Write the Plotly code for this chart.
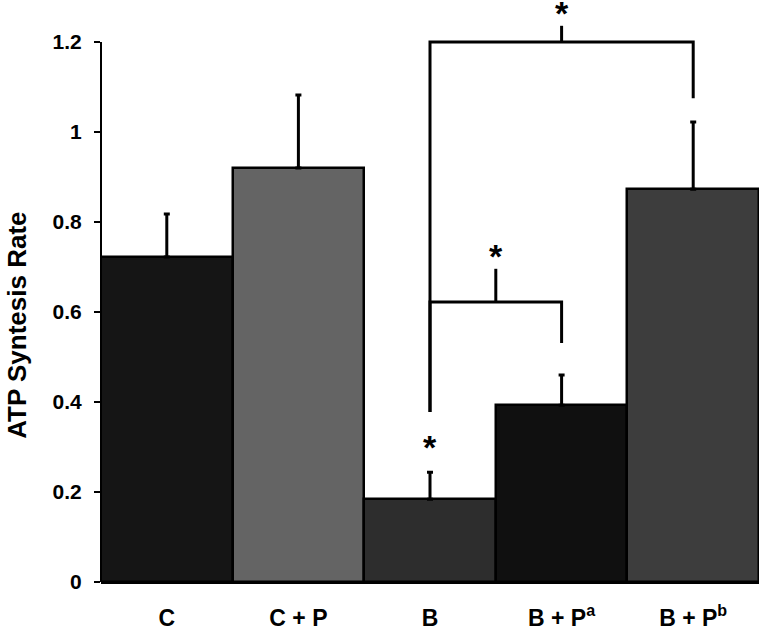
import plotly.graph_objects as go

# ---- data ----
categories = ["C", "C + P", "B", "B + P<sup>a</sup>", "B + P<sup>b</sup>"]
means = [0.722, 0.92, 0.184, 0.393, 0.873]
errors = [0.096, 0.162, 0.060, 0.067, 0.149]
bar_colors = ["#151515", "#646464", "#2d2d2d", "#101010", "#3d3d3d"]

y_ticks = [0, 0.2, 0.4, 0.6, 0.8, 1.0, 1.2]
y_tick_labels = ["0", "0.2", "0.4", "0.6", "0.8", "1", "1.2"]

# significance brackets: (left idx, right idx, bracket height, left end, right end, tick top, star y)
brackets = [
    (2, 3, 0.622, 0.378, 0.531, 0.696, 0.733),
    (2, 4, 1.200, 0.378, 1.075, 1.236, 1.274),
]
single_star = (2, 0.309)

FONT = "Liberation Sans, Arial, Helvetica, sans-serif"

x_idx = list(range(len(categories)))

fig = go.Figure()
fig.add_trace(go.Bar(
    x=x_idx, y=means,
    width=1.0,
    marker=dict(color=bar_colors, line=dict(color="black", width=2.5)),
    error_y=dict(type="data", symmetric=False, array=errors,
                 arrayminus=[0] * len(errors),
                 color="black", thickness=3, width=3),
    showlegend=False,
))

shapes = []
annotations = []
star_font = dict(family=FONT, size=34, color="black", weight="bold")
for (a, b, h, lb, rb, tt, sy) in brackets:
    mid = (a + b) / 2
    shapes.append(dict(type="path", xref="x", yref="y",
                       path=f"M {a},{lb} L {a},{h} L {b},{h} L {b},{rb}",
                       line=dict(color="black", width=3)))
    shapes.append(dict(type="line", xref="x", yref="y",
                       x0=mid, x1=mid, y0=h, y1=tt,
                       line=dict(color="black", width=3)))
    annotations.append(dict(x=mid, y=sy, xref="x", yref="y", text="*",
                            showarrow=False, yshift=-4, font=star_font))

annotations.append(dict(x=single_star[0], y=single_star[1], xref="x", yref="y", text="*",
                        showarrow=False, yshift=-4, font=star_font))

# y axis line from 0 to 1.2 only
shapes.append(dict(type="line", xref="paper", yref="y", x0=0, x1=0, y0=0, y1=1.2,
                   line=dict(color="black", width=2)))

annotations.append(dict(x=-0.128, y=0.571, xref="paper", yref="y",
                        text="ATP Syntesis Rate", textangle=-90, showarrow=False,
                        xanchor="center", yanchor="middle",
                        font=dict(family=FONT, size=26, color="black", weight="bold")))

fig.update_layout(
    width=760, height=635,
    margin=dict(l=101, r=1, t=6, b=53),
    plot_bgcolor="white", paper_bgcolor="white",
    bargap=0,
    shapes=shapes,
    annotations=annotations,
    xaxis=dict(range=[-0.5, 4.5], tickvals=x_idx, ticktext=categories,
               showgrid=False, zeroline=False, showline=True, linecolor="black",
               linewidth=2, ticks="", ticklabelstandoff=14, automargin=False,
               tickfont=dict(family=FONT, size=23, color="black", weight="bold")),
    yaxis=dict(range=[0, 1.28], tickvals=y_ticks, ticktext=y_tick_labels,
               showgrid=False, zeroline=False, showline=False, automargin=False,
               ticks="outside", ticklen=6, tickwidth=2, tickcolor="black",
               ticklabelstandoff=8,
               tickfont=dict(family=FONT, size=21, color="black", weight="bold")),
)

fig.write_html("out.html", config={"displayModeBar": False},
               post_script="document.body.style.margin='0px';document.body.style.padding='0px';")
